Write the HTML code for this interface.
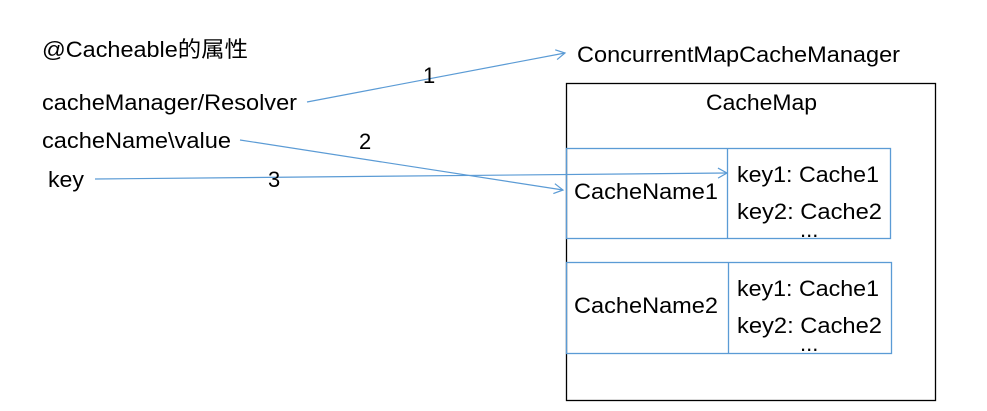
<!DOCTYPE html>
<html><head><meta charset="utf-8"><style>html,body{margin:0;padding:0;background:#fff}svg{display:block}</style></head>
<body>
<svg width="987" height="411" viewBox="0 0 987 411" xmlns="http://www.w3.org/2000/svg" font-family="'Liberation Sans','Noto Sans CJK SC',sans-serif" font-size="22" fill="#000">
<defs><marker id="a" markerWidth="12" markerHeight="12" refX="10" refY="6" orient="auto" markerUnits="userSpaceOnUse"><path d="M1,1 L10,6 L1,11" fill="none" stroke="#5b9bd5" stroke-width="1.2"/></marker></defs>
<text x="42" y="57" textLength="206" lengthAdjust="spacingAndGlyphs">@Cacheable的属性</text>
<text x="42" y="110" textLength="255" lengthAdjust="spacingAndGlyphs">cacheManager/Resolver</text>
<text x="42" y="148" textLength="189" lengthAdjust="spacingAndGlyphs">cacheName\value</text>
<text x="48" y="187" textLength="36" lengthAdjust="spacingAndGlyphs">key</text>
<text x="577" y="62" textLength="323" lengthAdjust="spacingAndGlyphs">ConcurrentMapCacheManager</text>
<rect x="566.5" y="83.5" width="369" height="317" fill="none" stroke="#000" stroke-width="1.3"/>
<text x="706" y="110" textLength="111" lengthAdjust="spacingAndGlyphs">CacheMap</text>
<g fill="none" stroke="#5b9bd5" stroke-width="1.3">
<rect x="566.5" y="148.5" width="324" height="90"/><line x1="727.5" y1="148" x2="727.5" y2="239"/>
<rect x="566.5" y="262.5" width="325" height="91"/><line x1="728.5" y1="262" x2="728.5" y2="354"/>
</g>
<text x="574" y="199" textLength="144" lengthAdjust="spacingAndGlyphs">CacheName1</text>
<text x="737" y="182" textLength="142" lengthAdjust="spacingAndGlyphs">key1: Cache1</text>
<text x="737" y="219" textLength="145" lengthAdjust="spacingAndGlyphs">key2: Cache2</text>
<text x="800" y="237">...</text>
<text x="574" y="313" textLength="144" lengthAdjust="spacingAndGlyphs">CacheName2</text>
<text x="737" y="296" textLength="142" lengthAdjust="spacingAndGlyphs">key1: Cache1</text>
<text x="737" y="333" textLength="145" lengthAdjust="spacingAndGlyphs">key2: Cache2</text>
<text x="800" y="351">...</text>
<g fill="none" stroke="#5b9bd5" stroke-width="1.2">
<line x1="307" y1="102" x2="565" y2="53" marker-end="url(#a)"/>
<line x1="240" y1="140" x2="563" y2="190" marker-end="url(#a)"/>
<line x1="95" y1="179" x2="727" y2="173" marker-end="url(#a)"/>
</g>
<text x="423" y="83">1</text>
<text x="359" y="149">2</text>
<text x="268" y="187">3</text>
</svg>
</body></html>
